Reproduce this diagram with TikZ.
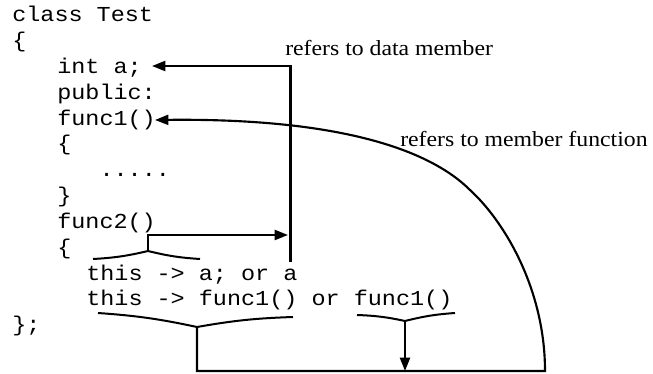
\documentclass[tikz,border=0pt]{standalone}
\usepackage{fontspec}
\setmainfont[FakeStretch=1.1]{Liberation Serif}
\newfontfamily\codefont[FakeStretch=1.1]{Liberation Mono}
\usetikzlibrary{arrows.meta,calc}
\begin{document}
\begin{tikzpicture}[x=0.75pt,y=-0.75pt,
  code/.style={font={\codefont\fontsize{16pt}{19pt}\selectfont}, anchor=base west, inner sep=0pt},
  lbl/.style={font={\fontsize{16.2pt}{19pt}\selectfont}, anchor=base west, inner sep=0pt},
  arr/.style={line width=1.6pt, -{Triangle[length=10pt,width=7.5pt]}},
  brc/.style={line width=1.5pt}]
\useasboundingbox (0,0) rectangle (653,374);
% code lines
\node[code] (c1)  at (12,22)    {class Test};
\node[code] (c2)  at (12,47.8)  {\{};
\node[code] (c3)  at (57,73.6)  {int a;};
\node[code] (c4)  at (57,99.4)  {public:};
\node[code] (c5)  at (57,125.2) {func1()};
\node[code] (c6)  at (57,151)   {\{};
\node[code] (c7)  at (57,176.8) {\ \ \ .....};
\node[code] (c8)  at (57,202.6) {\}};
\node[code] (c9)  at (57,228.4) {func2()};
\node[code] (c10) at (57,254.2) {\{};
\node[code] (c11) at (86,280)   {this -> a; or a};
\node[code] (c12) at (86,305.8) {this -> func1() or func1()};
\node[code] (c13) at (12,331.6) {\};};
% labels
\node[lbl] (l1) at (285,56)  {refers to data member};
\node[lbl] (l2) at (400,147) {refers to member function};
% named points
\coordinate (aTop)   at (290.5,262);
\coordinate (aCorn)  at (290.5,66);
\coordinate (intTip) at (152,66);
\coordinate (f1Tip)  at (155,120);
\coordinate (b1L) at (93,259);
\coordinate (b1P) at (148,251);
\coordinate (b1R) at (200,259);
\coordinate (b1Up) at (148,235);
\coordinate (b1Tip) at (288,235);
\coordinate (b2L) at (98,313);
\coordinate (b2P) at (197,327);
\coordinate (b2R) at (293,317);
\coordinate (b3L) at (357,315);
\coordinate (b3P) at (405,321);
\coordinate (b3R) at (455,313);
\coordinate (bl)  at (197,371);
\coordinate (b3D) at (405,371);
\coordinate (br)  at (545,371);
\coordinate (cm)  at (470,190);
% data member connector
\draw[arr] (aTop) -- (aCorn) -- (intTip);
% func2 brace and arrow
\draw[brc] (b1L) to[bend right=5] (b1P) to[bend right=5] (b1R);
\draw[arr] (b1P) -- (b1Up) -- (b1Tip);
% brace under this -> func1()
\draw[brc] (b2L) to[bend left=4] (b2P) to[bend left=4] (b2R);
% brace under func1()
\draw[brc] (b3L) to[bend left=5] (b3P) to[bend left=5] (b3R);
\draw[arr] (b3P) -- (b3D);
% member function connector
\draw[arr] (b2P) -- (bl) -- (br)
  .. controls (545,290) and (505,222) .. (cm)
  .. controls (430,150) and (340,118) .. (f1Tip);
\end{tikzpicture}
\end{document}
